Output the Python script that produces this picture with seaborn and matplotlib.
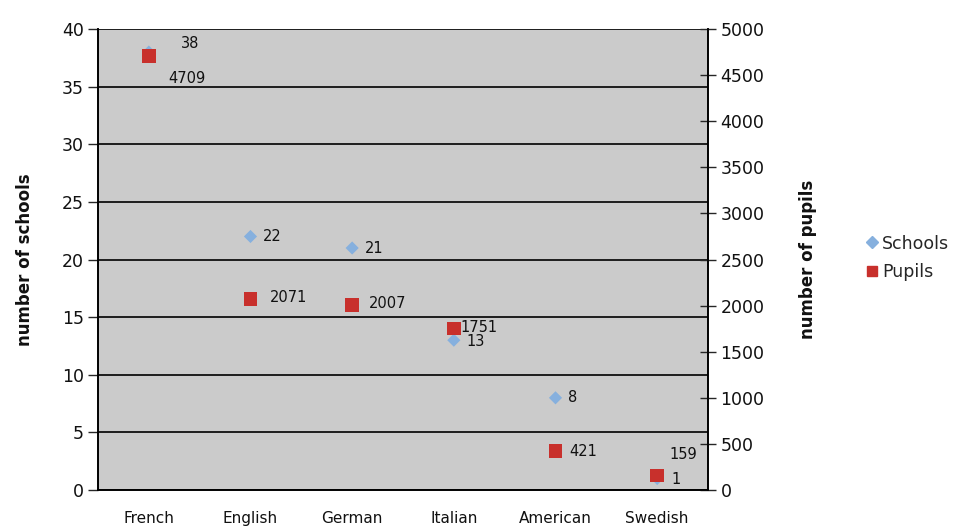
import matplotlib
matplotlib.use("Agg")
import matplotlib.pyplot as plt
from matplotlib.lines import Line2D
import numpy as np
import pandas as pd
import seaborn as sns

# values
languages = ["French", "English", "German", "Italian", "American", "Swedish"]
schools = [38, 22, 21, 13, 8, 1]
pupils = [4709, 2071, 2007, 1751, 421, 159]

# label offsets (points) for each data label
school_offsets = [(23, 6), (9, 0), (9, 0), (9, -1), (9, 0), (10, -1)]
pupil_offsets = [(14, -16), (14, 1), (12, 1), (5, 1), (10, 0), (9, 15)]

df = pd.DataFrame({"language": languages, "schools": schools, "pupils": pupils})
df["pos"] = np.arange(len(df))

sns.set_style("white")
plt.rcParams["font.family"] = ["DejaVu Sans"]

blue = "#86b0de"
red = "#c8302c"
ink = "#111111"

fig = plt.figure(figsize=(9.72, 5.26), dpi=100)
ax = fig.add_axes([0.1008, 0.0684, 0.6276, 0.8764])
ax.set_facecolor("#cbcbcb")

sns.scatterplot(data=df, x="pos", y="schools", ax=ax, marker="D", s=45,
                color=blue, edgecolor="none", legend=False, zorder=3)
ax.set_ylim(0, 40)
ax.set_xlim(-0.5, len(df) - 0.5)
ax.set_yticks(np.arange(0, 41, 5))
ax.yaxis.grid(True, color="black", linewidth=1.2)
ax.set_axisbelow(True)

ax2 = ax.twinx()
sns.scatterplot(data=df, x="pos", y="pupils", ax=ax2, marker="s", s=95,
                color=red, edgecolor="none", legend=False, zorder=4)
ax2.set_ylim(0, 5000)
ax2.set_yticks(np.arange(0, 5001, 500))
ax2.set_xlim(-0.5, len(df) - 0.5)

# x axis: labels centred, ticks on category boundaries
ax.set_xticks(df["pos"])
ax.set_xticklabels(languages, fontsize=11, color=ink)
ax.tick_params(axis="x", length=0, pad=15)
ax.set_xticks(np.arange(-0.5, len(df), 1), minor=True)
ax.tick_params(axis="x", which="minor", length=6, width=1.2, color="black", direction="out")
ax.set_xlabel("")
ax.tick_params(axis="y", length=7, width=1, direction="out", labelsize=12.5,
               labelcolor=ink, pad=3)
ax2.tick_params(axis="y", length=12, width=1, direction="inout", labelsize=12.5,
                labelcolor=ink, pad=3)

ax.set_ylabel("number of schools", fontsize=12, fontweight="bold", labelpad=20, color=ink)
ax2.set_ylabel("number of pupils", fontsize=12, fontweight="bold", labelpad=25, color=ink)

for a in (ax, ax2):
    for side in ("left", "right", "bottom"):
        a.spines[side].set_color("black")
        a.spines[side].set_linewidth(1.2)
    a.spines["top"].set_visible(False)

for x, y, off in zip(df["pos"], schools, school_offsets):
    ax.annotate(str(y), (x, y), xytext=off, textcoords="offset points",
                ha="left", va="center", fontsize=10.5, color=ink, zorder=5)
for x, y, off in zip(df["pos"], pupils, pupil_offsets):
    ax2.annotate(str(y), (x, y), xytext=off, textcoords="offset points",
                 ha="left", va="center", fontsize=10.5, color=ink, zorder=5)

handles = [
    Line2D([], [], marker="D", linestyle="none", color=blue, markersize=6),
    Line2D([], [], marker="s", linestyle="none", color=red, markersize=7),
]
fig.legend(handles, ["Schools", "Pupils"], loc="center left",
           bbox_to_anchor=(0.872, 0.51), frameon=False, fontsize=12.5,
           handletextpad=0.1, labelspacing=0.6, handlelength=1.0)

fig.savefig("out.png", dpi=100)
